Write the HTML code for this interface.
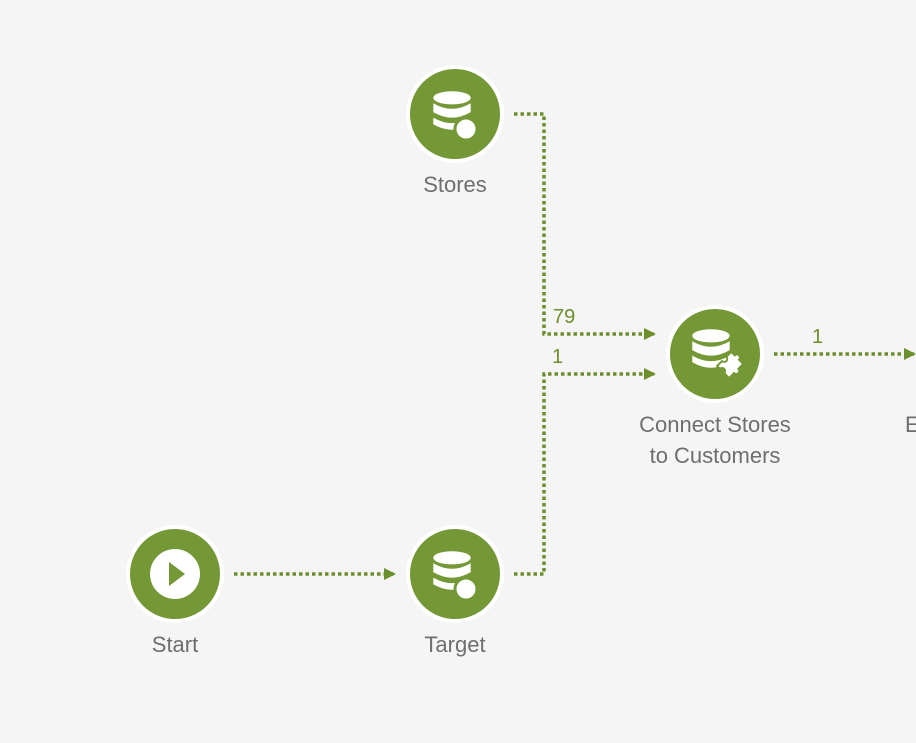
<!DOCTYPE html>
<html><head><style>
html,body{margin:0;padding:0;background:#f5f5f5;}
body{width:916px;height:738px;overflow:hidden;}
text{font-family:"Liberation Sans",sans-serif;}
</style></head><body>
<svg width="916" height="738" viewBox="0 0 916 738" xmlns="http://www.w3.org/2000/svg">
<defs>
<marker id="a" markerWidth="12" markerHeight="12" refX="10" refY="6" orient="auto" markerUnits="userSpaceOnUse">
<path d="M0,0 L12,6 L0,12 Z" fill="#6b8f2c"/></marker>
<g id="db">
<ellipse cx="0" cy="-12" rx="17" ry="6" fill="#fff"/>
<path d="M-17,-7 Q0,3 17,-7 V1 Q0,11 -17,1 Z" fill="#fff"/>
<path d="M-17,6 Q0,16 17,6 V12 Q0,22 -17,12 Z" fill="#fff"/>
</g>
</defs>
<g fill="none" stroke="#6b8f2c" stroke-width="3.5" stroke-dasharray="3.5 3">
<path d="M514,114 H544 V334 H654" marker-end="url(#a)"/>
<path d="M514,574 H544 V374 H654" marker-end="url(#a)"/>
<path d="M234,574 H394" marker-end="url(#a)"/>
<path d="M774,354 H914" marker-end="url(#a)"/>
</g>
<g fill="#739835" stroke="#fff" stroke-width="4">
<circle cx="455" cy="114" r="47"/>
<circle cx="455" cy="574" r="47"/>
<circle cx="175" cy="574" r="47"/>
<circle cx="715" cy="354" r="47"/>
</g>
<use href="#db" transform="translate(452,111) scale(1.1)"/>
<circle cx="466" cy="129" r="11" fill="#fff" stroke="#739835" stroke-width="3"/>
<use href="#db" transform="translate(452,571) scale(1.1)"/>
<circle cx="466" cy="589" r="11" fill="#fff" stroke="#739835" stroke-width="3"/>
<use href="#db" transform="translate(711,349) scale(1.1)"/>
<g transform="translate(727,366)" fill="#fff" stroke="#739835" stroke-width="2">
<path d="M-7,-13 h5 a3,3 0 0 1 6,0 h6 v7 a3,3 0 0 1 0,6 v7 h-7 a3,3 0 0 0 -6,0 h-4 v-7 a3,3 0 0 0 0,-6 z" transform="rotate(45)"/>
</g>
<circle cx="175" cy="574" r="25" fill="#fff"/>
<path d="M169,562 L185,574 L169,586 Z" fill="#739835"/>
<g fill="#6e6e6e" font-size="22" text-anchor="middle">
<text x="455" y="192">Stores</text>
<text x="455" y="652">Target</text>
<text x="175" y="652">Start</text>
<text x="715" y="432">Connect Stores</text>
<text x="715" y="463">to Customers</text>
<text x="905" y="432" text-anchor="start">E</text>
</g>
<g fill="#6b8f2c" font-size="20">
<text x="553" y="323">79</text>
<text x="552" y="363">1</text>
<text x="812" y="343">1</text>
</g>
</svg>
</body></html>
